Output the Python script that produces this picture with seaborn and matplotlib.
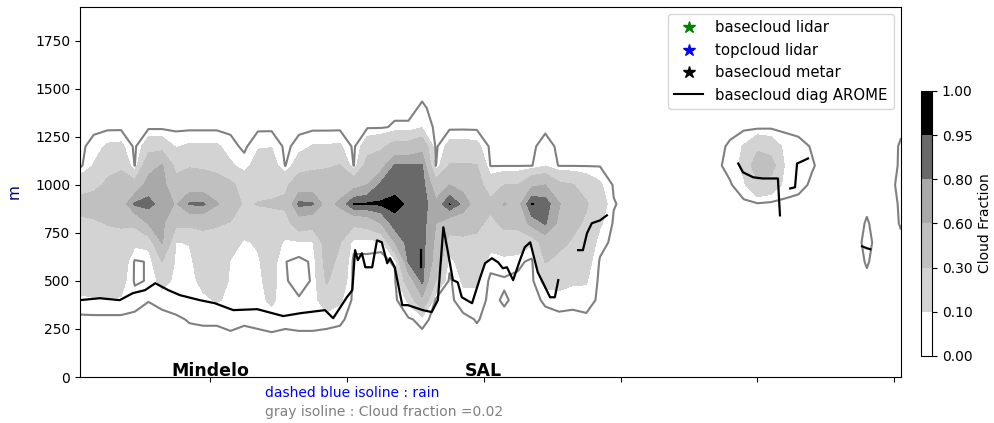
import numpy as np
import pandas as pd
import matplotlib
matplotlib.use('Agg')
import matplotlib.pyplot as plt
from matplotlib.lines import Line2D
import seaborn as sns

plt.rcParams['font.size'] = 10

# heights (m) of the levels the profiles are given on
z_levels = [300, 400, 500, 600, 700, 800, 900, 1000, 1100, 1200, 1300, 1400]

# cloud fraction profiles (one list per column, values from 300 m up to 1400 m)
x_west = [1, 3, 5, 7, 9, 11, 13, 15, 17, 19, 21, 23, 25]
cf_west = [
    [0, 0.08, 0.15, 0.18, 0.20, 0.25, 0.38, 0.20, 0, 0, 0, 0],
    [0, 0.09, 0.16, 0.18, 0.20, 0.27, 0.40, 0.25, 0.11, 0.05, 0, 0],
    [0, 0.09, 0.16, 0.20, 0.22, 0.31, 0.42, 0.33, 0.25, 0.12, 0, 0],
    [0, 0.09, 0.15, 0.20, 0.24, 0.32, 0.45, 0.36, 0.28, 0.13, 0, 0],
    [0, 0.05, 0.01, 0.01, 0.13, 0.35, 0.83, 0.40, 0.015, 0, 0, 0],
    [0, 0.022, 0.025, 0.025, 0.15, 0.62, 0.86, 0.70, 0.50, 0.20, 0, 0],
    [0, 0.04, 0.15, 0.30, 0.62, 0.65, 0.72, 0.68, 0.62, 0.20, 0, 0],
    [0.01, 0.05, 0.07, 0.08, 0.095, 0.35, 0.58, 0.40, 0.22, 0.09, 0, 0],
    [0.025, 0.06, 0.07, 0.08, 0.105, 0.35, 0.82, 0.45, 0.28, 0.12, 0, 0],
    [0.03, 0.08, 0.13, 0.16, 0.20, 0.36, 0.83, 0.45, 0.26, 0.12, 0, 0],
    [0.03, 0.11, 0.15, 0.18, 0.22, 0.32, 0.62, 0.42, 0.22, 0.12, 0, 0],
    [0.05, 0.08, 0.09, 0.095, 0.14, 0.29, 0.42, 0.35, 0.12, 0.05, 0, 0],
    [0.03, 0.06, 0.07, 0.08, 0.09, 0.16, 0.27, 0.20, 0.06, 0, 0, 0],
]

x_centre = [27, 29, 31, 33, 35, 37, 39, 41, 43, 45, 47, 49, 51, 53]
cf_centre = [
    [0.04, 0.07, 0.08, 0.09, 0.11, 0.20, 0.31, 0.22, 0.16, 0.09, 0, 0],
    [0.06, 0.12, 0.14, 0.15, 0.17, 0.22, 0.32, 0.24, 0.17, 0.095, 0, 0],
    [0.04, 0.05, 0.025, 0.022, 0.08, 0.20, 0.35, 0.25, 0.015, 0, 0, 0],
    [0.05, 0.025, 0, 0, 0.08, 0.45, 0.85, 0.45, 0.20, 0.05, 0, 0],
    [0.05, 0.04, 0.025, 0.03, 0.09, 0.40, 0.82, 0.45, 0.25, 0.11, 0, 0],
    [0.04, 0.20, 0.32, 0.38, 0.40, 0.42, 0.50, 0.45, 0.27, 0.11, 0, 0],
    [0.03, 0.12, 0.20, 0.25, 0.31, 0.40, 0.65, 0.45, 0.31, 0.12, 0, 0],
    [0, 0, 0, 0, 0.05, 0.35, 0.96, 0.50, 0.015, 0, 0, 0],
    [0, 0, 0, 0, 0.05, 0.40, 0.97, 0.60, 0.40, 0.20, 0.01, 0],
    [0, 0, 0, 0, 0.04, 0.60, 0.97, 0.85, 0.50, 0.25, 0.01, 0],
    [0, 0, 0, 0.03, 0.60, 0.90, 0.99, 0.90, 0.82, 0.40, 0.03, 0],
    [0.01, 0.12, 0.45, 0.82, 0.88, 0.90, 0.93, 0.90, 0.82, 0.40, 0.03, 0],
    [0.04, 0.55, 0.84, 0.86, 0.87, 0.88, 0.90, 0.88, 0.82, 0.50, 0.09, 0.03],
    [0, 0, 0.30, 0.50, 0.55, 0.60, 0.65, 0.45, 0.015, 0, 0, 0],
]

x_east = [55, 57, 59, 61, 63, 65, 67, 69, 71, 73, 75, 77, 79, 81]
cf_east = [
    [0, 0, 0, 0.05, 0.20, 0.45, 0.96, 0.60, 0.32, 0.15, 0, 0],
    [0, 0.06, 0.12, 0.18, 0.25, 0.40, 0.75, 0.50, 0.32, 0.16, 0, 0],
    [0.025, 0.06, 0.12, 0.20, 0.25, 0.35, 0.45, 0.38, 0.31, 0.14, 0, 0],
    [0, 0, 0, 0.05, 0.15, 0.25, 0.35, 0.20, 0.015, 0, 0, 0],
    [0, 0.03, 0.01, 0.06, 0.20, 0.35, 0.62, 0.30, 0.015, 0, 0, 0],
    [0, 0, 0, 0.04, 0.20, 0.35, 0.50, 0.30, 0.015, 0, 0, 0],
    [0, 0, 0, 0, 0.12, 0.70, 0.96, 0.55, 0.015, 0, 0, 0],
    [0, 0.03, 0.15, 0.31, 0.45, 0.82, 0.90, 0.60, 0.09, 0.06, 0, 0],
    [0, 0.05, 0.15, 0.25, 0.35, 0.55, 0.62, 0.35, 0.015, 0, 0, 0],
    [0, 0.04, 0.12, 0.20, 0.28, 0.35, 0.40, 0.31, 0.015, 0, 0, 0],
    [0, 0.06, 0.11, 0.16, 0.22, 0.27, 0.32, 0.22, 0.015, 0, 0, 0],
    [0, 0, 0, 0.01, 0.05, 0.12, 0.18, 0.12, 0.015, 0, 0, 0],
    [0, 0, 0, 0, 0, 0.01, 0.025, 0.01, 0, 0, 0, 0],
    [0, 0, 0, 0, 0, 0, 0, 0, 0, 0, 0, 0],
]

# small isolated clouds further east
x_far = [94, 96, 98, 100, 102, 104, 106, 108, 110, 115, 116, 117, 120, 121]
cf_far = [
    [0, 0, 0, 0, 0, 0, 0, 0, 0, 0, 0, 0],
    [0, 0, 0, 0, 0, 0, 0, 0.01, 0.05, 0.03, 0, 0],
    [0, 0, 0, 0, 0, 0, 0, 0.08, 0.13, 0.11, 0, 0],
    [0, 0, 0, 0, 0, 0, 0.01, 0.25, 0.45, 0.25, 0, 0],
    [0, 0, 0, 0, 0, 0, 0, 0.20, 0.40, 0.20, 0.005, 0],
    [0, 0, 0, 0, 0, 0, 0, 0.07, 0.09, 0.07, 0, 0],
    [0, 0, 0, 0, 0, 0, 0, 0.04, 0.06, 0.04, 0, 0],
    [0, 0, 0, 0, 0, 0, 0, 0.01, 0.025, 0.015, 0, 0],
    [0, 0, 0, 0, 0, 0, 0, 0, 0, 0, 0, 0],
    [0, 0, 0, 0, 0, 0, 0, 0, 0, 0, 0, 0],
    [0, 0, 0, 0.03, 0.09, 0.03, 0, 0, 0, 0, 0, 0],
    [0, 0, 0, 0, 0, 0, 0, 0, 0, 0, 0, 0],
    [0, 0, 0, 0, 0, 0, 0, 0.01, 0, 0, 0, 0],
    [0, 0, 0, 0, 0, 0.03, 0.04, 0.09, 0.04, 0.035, 0, 0],
]

# basecloud diag AROME, one list per unbroken piece
base_x_main = [1.0, 3.9, 6.8, 8.7, 10.5, 12.0, 13.9, 15.6, 18.5, 20.7, 23.4, 26.9,
               30.7, 33.2, 36.8, 38.0, 40.0, 40.8, 41.2, 41.6, 42.2, 42.7, 43.7,
               44.4, 45.1, 45.9, 46.3, 47.0, 48.1, 48.9, 51.1, 52.4, 53.3, 54.1,
               54.8, 55.5, 56.2, 56.8, 58.3, 59.5, 60.2, 61.2, 62.1, 62.8, 63.4,
               64.3, 65.3, 66.0, 66.8, 67.2, 67.9, 68.7, 69.7, 70.4, 70.9]
base_z_main = [400, 410, 400, 436, 452, 488, 452, 426, 400, 384, 348, 353,
               317, 332, 348, 306, 415, 452, 660, 608, 644, 571, 571,
               711, 701, 592, 618, 571, 374, 374, 348, 338, 400, 779,
               644, 504, 493, 415, 384, 519, 592, 618, 597, 566, 571,
               504, 608, 675, 701, 644, 545, 488, 415, 415, 504]
base_x_tick = [50.8, 50.8]
base_z_tick = [660, 571]
base_x_edge = [73.8, 74.5, 75.1, 75.8, 77.0, 78.0]
base_z_edge = [660, 660, 748, 800, 815, 841]
base_x_cloud_a = [97.2, 97.9, 99.4, 100.8, 103.0, 103.3]
base_z_cloud_a = [1111, 1065, 1039, 1033, 1033, 841]
base_x_cloud_b = [104.8, 105.5, 105.8, 106.2, 107.4]
base_z_cloud_b = [981, 987, 1111, 1117, 1137]
base_x_small = [115.3, 116.0, 116.5]
base_z_small = [680, 670, 665]

levels = [0, 0.1, 0.3, 0.6, 0.8, 0.95, 1.0]
fill_colors = ['white', 'lightgray', 'silver', 'darkgray', 'dimgray', 'black']

# build the section: columns side by side, padded with clear air below and above
x_all = np.array(x_west + x_centre + x_east + x_far, dtype=float)
profiles = np.array(cf_west + cf_centre + cf_east + cf_far, dtype=float).T
z_all = np.array([0, 200] + z_levels + [1500, 1925], dtype=float)
field = np.vstack([np.zeros((2, len(x_all))), profiles, np.zeros((2, len(x_all)))])

pieces = [(base_x_main, base_z_main), (base_x_tick, base_z_tick),
          (base_x_edge, base_z_edge), (base_x_cloud_a, base_z_cloud_a),
          (base_x_cloud_b, base_z_cloud_b), (base_x_small, base_z_small)]
base_df = pd.concat([pd.DataFrame({'x': px, 'z': pz, 'piece': i})
                     for i, (px, pz) in enumerate(pieces)], ignore_index=True)

fig = plt.figure(figsize=(9.94, 4.23), dpi=100)
ax = fig.add_axes([0.0805, 0.1087, 0.8260, 0.8747])
cax = fig.add_axes([0.9266, 0.1584, 0.0111, 0.6265])

cf = ax.contourf(x_all, z_all, field, levels=levels, colors=fill_colors)
ax.contour(x_all, z_all, field, levels=[0.02], colors='gray', linewidths=1.5)

sns.lineplot(data=base_df, x='x', y='z', units='piece', estimator=None,
             color='black', linewidth=1.6, ax=ax)

ax.set_xlim(1, 121)
ax.set_ylim(0, 1925)
ax.set_xticks([20, 40, 60, 80, 100, 120])
ax.set_xticklabels([])
ax.set_yticks([0, 250, 500, 750, 1000, 1250, 1500, 1750])
ax.set_xlabel('')
ax.set_ylabel('m', color='navy', fontsize=11)
ax.yaxis.set_label_coords(-0.0706, 0.5)

ax.text(20, 5, 'Mindelo', ha='center', va='baseline', fontsize=12.5, fontweight='bold')
ax.text(60, 5, 'SAL', ha='center', va='baseline', fontsize=12.5, fontweight='bold')

ax.text(0.2253, -0.043, 'dashed blue isoline : rain', color='blue',
        transform=ax.transAxes, ha='left', va='center', fontsize=10)
ax.text(0.2253, -0.095, 'gray isoline : Cloud fraction =0.02', color='gray',
        transform=ax.transAxes, ha='left', va='center', fontsize=10)

handles = [
    Line2D([], [], marker='*', color='green', linestyle='None', markersize=9),
    Line2D([], [], marker='*', color='blue', linestyle='None', markersize=9),
    Line2D([], [], marker='*', color='black', linestyle='None', markersize=9),
    Line2D([], [], color='black', linewidth=1.5),
]
ax.legend(handles, ['basecloud lidar', 'topcloud lidar', 'basecloud metar',
                    'basecloud diag AROME'], loc='upper right', fontsize=10.7)

cbar = fig.colorbar(cf, cax=cax, ticks=levels, format='%.2f')
cbar.set_label('Cloud Fraction')

fig.savefig('out.png', dpi=100)
